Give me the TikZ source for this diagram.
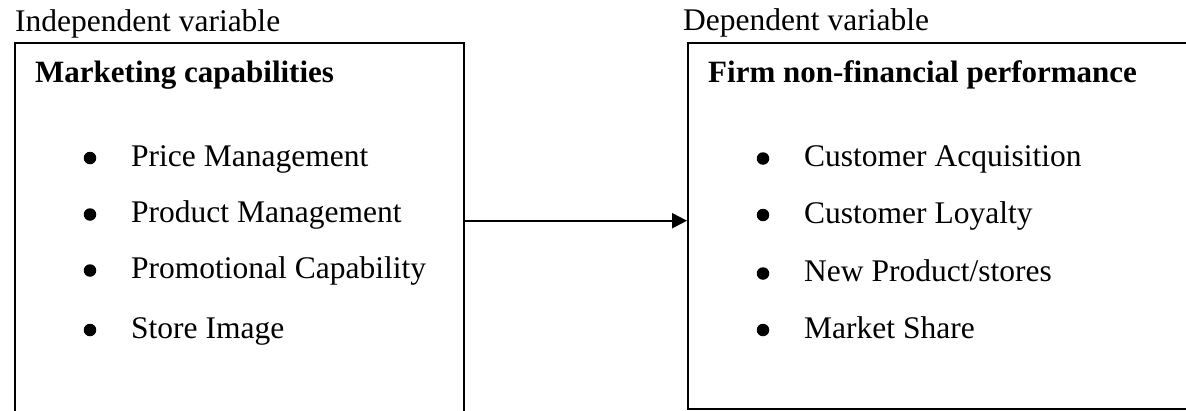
\documentclass[tikz,border=0pt]{standalone}
\usepackage{fontspec}
\setmainfont{Liberation Serif}
\usetikzlibrary{arrows.meta}
\tikzset{
  box/.style={draw=black, line width=2.2pt, rectangle, anchor=north west, inner sep=0pt},
  lbl/.style={anchor=base west, inner sep=0pt, font=\fontsize{31.5}{37}\selectfont},
  head/.style={lbl, font=\fontsize{31}{37}\selectfont\bfseries},
  dot/.style={circle, fill=black, inner sep=0pt, minimum size=12.5pt},
  arr/.style={line width=2.2pt, -{Triangle[length=15pt, width=15pt]}}
}
\begin{document}
\begin{tikzpicture}[x=1pt, y=-1pt]
\clip (0,0) rectangle (1186,410);
\useasboundingbox (0,0) rectangle (1186,410);
% boxes
\node[box, minimum width=449pt, minimum height=400pt] (left) at (14,42) {};
\node[box, minimum width=530pt, minimum height=366pt] (right) at (687,42) {};
% titles above
\node[lbl] (iv) at (15,31) {Independent variable};
\node[lbl] (dv) at (683,30) {Dependent variable};
% headings
\node[head] (lh) at (35,82.5) {Marketing capabilities};
\node[head] (rh) at (708,82) {Firm non-financial performance};
% left bullets
\node[dot] (lb1) at (90,158) {};
\node[lbl] (lt1) at (131,166) {Price Management};
\node[dot] (lb2) at (90,214.5) {};
\node[lbl] (lt2) at (131,222.5) {Product Management};
\node[dot] (lb3) at (90,270.5) {};
\node[lbl] (lt3) at (131,278.5) {Promotional Capability};
\node[dot] (lb4) at (90,330) {};
\node[lbl] (lt4) at (131,338) {Store Image};
% right bullets
\node[dot] (rb1) at (763,158.5) {};
\node[lbl] (rt1) at (804,166.5) {Customer Acquisition};
\node[dot] (rb2) at (763,215) {};
\node[lbl] (rt2) at (804,223) {Customer Loyalty};
\node[dot] (rb3) at (763,273.5) {};
\node[lbl] (rt3) at (804,281.5) {New Product/stores};
\node[dot] (rb4) at (763,330) {};
\node[lbl] (rt4) at (804,338) {Market Share};
% arrow
\coordinate (ay) at (0,220.7);
\draw[arr] (left.east |- ay) -- (right.west |- ay);
\end{tikzpicture}
\end{document}
